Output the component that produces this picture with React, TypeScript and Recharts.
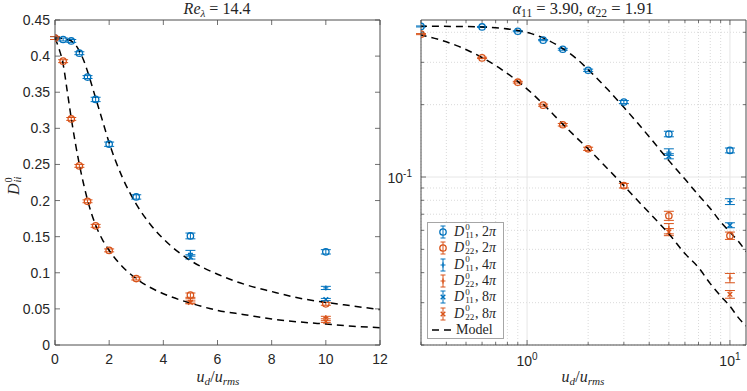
import React from 'react';
import { ComposedChart, XAxis, YAxis, Scatter, Line, ErrorBar, ReferenceLine } from 'recharts';

const BLUE = '#0072BD';
const ORANGE = '#D95319';
const INK = '#262626';
const AXIS = '#4d4d4d';
const SANS = '"Liberation Sans", Arial, Helvetica, sans-serif';
const SERIF = '"Liberation Serif", "Times New Roman", serif';

// ---------- data ----------
const uD = [0, 0.3, 0.6, 0.9, 1.2, 1.5, 2, 3, 5, 10];
const d11_2pi = [0.425, 0.423, 0.421, 0.404, 0.371, 0.34, 0.278, 0.205, 0.151, 0.129];
const d11_2pi_err = [0.002, 0.002, 0.002, 0.002, 0.002, 0.003, 0.003, 0.003, 0.004, 0.003];
const d22_2pi = [0.425, 0.393, 0.313, 0.248, 0.199, 0.165, 0.131, 0.092, 0.069, 0.057];
const d22_2pi_err = [0.002, 0.002, 0.002, 0.002, 0.002, 0.002, 0.002, 0.002, 0.003, 0.002];

const uDLarge = [5, 10];
const d11_4pi = [0.127, 0.079];
const d11_4pi_err = [0.004, 0.0022];
const d22_4pi = [0.061, 0.038];
const d22_4pi_err = [0.003, 0.0017];
const d11_8pi = [0.122, 0.063];
const d11_8pi_err = [0.003, 0.0015];
const d22_8pi = [0.059, 0.0325];
const d22_8pi_err = [0.002, 0.0012];

const uModel = [0, 0.15, 0.3, 0.45, 0.6, 0.75, 0.9, 1.05, 1.2, 1.5, 1.75, 2, 2.5, 3, 3.5, 4, 5, 6, 7, 8, 9, 10, 11, 12];
const model11 = [0.425, 0.425, 0.424, 0.423, 0.421, 0.416, 0.407, 0.395, 0.379, 0.342, 0.311, 0.28, 0.231, 0.195, 0.168, 0.147, 0.117, 0.098, 0.084, 0.074, 0.065, 0.059, 0.054, 0.049];
const model22 = [0.425, 0.41, 0.389, 0.352, 0.314, 0.28, 0.25, 0.224, 0.201, 0.166, 0.146, 0.131, 0.108, 0.092, 0.08, 0.071, 0.058, 0.048, 0.042, 0.036, 0.032, 0.029, 0.026, 0.024];

const linXTicks = [0, 2, 4, 6, 8, 10, 12];
const linYTicks = [0, 0.05, 0.1, 0.15, 0.2, 0.25, 0.3, 0.35, 0.4, 0.45];
const logXMajor = [1, 10];
const logXMinor = [0.3, 0.4, 0.5, 0.6, 0.7, 0.8, 0.9, 2, 3, 4, 5, 6, 7, 8, 9];
const logYMajor = [0.1];
const logYMinor = [0.02, 0.03, 0.04, 0.05, 0.06, 0.07, 0.08, 0.09, 0.2, 0.3, 0.4];

// ---------- helpers ----------
const rows = (xs: number[], ys: number[], es: number[]) => xs.map((x, i) => ({ x, y: ys[i], e: es[i] }));
const modelRows = uModel.map((x, i) => ({ x, m11: model11[i], m22: model22[i] }));
const modelRowsLog = modelRows.filter((r) => r.x > 0);
const positive = (r: { x: number }[]) => r.filter((p) => p.x > 0);

const circleShape = (c: string) => (p: any) =>
  <circle cx={p.cx} cy={p.cy} r={3.2} fill="none" stroke={c} strokeWidth={1.3} />;
const plusShape = (c: string) => (p: any) =>
  <path d={`M${p.cx - 2.5},${p.cy}H${p.cx + 2.5}M${p.cx},${p.cy - 2.5}V${p.cy + 2.5}`} stroke={c} strokeWidth={1.2} fill="none" />;
const crossShape = (c: string) => (p: any) =>
  <path d={`M${p.cx - 2.3},${p.cy - 2.3}L${p.cx + 2.3},${p.cy + 2.3}M${p.cx - 2.3},${p.cy + 2.3}L${p.cx + 2.3},${p.cy - 2.3}`} stroke={c} strokeWidth={1.4} fill="none" />;

type Side = 'bottom' | 'top' | 'left' | 'right';
const makeTick = (side: Side, isMajor: (v: number) => boolean, label: ((v: number, x: number, y: number) => React.ReactNode) | null) => (props: any) => {
  const { x, y, payload } = props;
  const v = payload.value;
  const len = isMajor(v) ? 5 : 3;
  let ln: any;
  if (side === 'bottom') ln = { x1: x, x2: x, y1: y, y2: y - len };
  else if (side === 'top') ln = { x1: x, x2: x, y1: y, y2: y + len };
  else if (side === 'left') ln = { x1: x, x2: x + len, y1: y, y2: y };
  else ln = { x1: x, x2: x - len, y1: y, y2: y };
  return (
    <g>
      <line {...ln} stroke={AXIS} strokeWidth={0.8} />
      {label ? label(v, x, y) : null}
    </g>
  );
};

const fmt = (v: number) => String(Number(v.toFixed(2)));
const linBottomLabel = (v: number, x: number, y: number) => (
  <text x={x} y={y + 19} textAnchor="middle" fontFamily={SANS} fontSize={14} fill={INK}>{fmt(v)}</text>
);
const linLeftLabel = (v: number, x: number, y: number) => (
  <text x={x - 5} y={y + 5} textAnchor="end" fontFamily={SANS} fontSize={14} fill={INK}>{fmt(v)}</text>
);
const logBottomLabel = (v: number, x: number, y: number) =>
  logXMajor.includes(v) ? (
    <text x={x} y={y + 21} textAnchor="middle" fontFamily={SANS} fontSize={14} fill={INK}>
      10<tspan dy={-6} fontSize={10}>{String(Math.round(Math.log10(v)))}</tspan>
    </text>
  ) : null;
const logLeftLabel = (v: number, x: number, y: number) =>
  logYMajor.includes(v) ? (
    <text x={x - 9} y={y + 6} textAnchor="end" fontFamily={SANS} fontSize={14} fill={INK}>
      10<tspan dy={-6} fontSize={10}>{String(Math.round(Math.log10(v)))}</tspan>
    </text>
  ) : null;

const allMajor = () => true;
const logXIsMajor = (v: number) => logXMajor.includes(v);
const logYIsMajor = (v: number) => logYMajor.includes(v);
const logXTicks = [...logXMinor, ...logXMajor].sort((a, b) => a - b);
const logYTicks = [...logYMinor, ...logYMajor].sort((a, b) => a - b);

const W_LEFT = 400;
const W_RIGHT = 367;
const H = 391;

const series = (log: boolean) => {
  const f = (r: any[]) => (log ? positive(r) : r);
  const common = { xAxisId: 'b', yAxisId: 'l', isAnimationActive: false } as any;
  const eb = (c: string) => <ErrorBar dataKey="e" direction="y" width={5} stroke={c} strokeWidth={1} />;
  return [
    <Scatter key="s1" {...common} data={f(rows(uD, d11_2pi, d11_2pi_err))} dataKey="y" shape={circleShape(BLUE)}>{eb(BLUE)}</Scatter>,
    <Scatter key="s2" {...common} data={f(rows(uD, d22_2pi, d22_2pi_err))} dataKey="y" shape={circleShape(ORANGE)}>{eb(ORANGE)}</Scatter>,
    <Scatter key="s3" {...common} data={rows(uDLarge, d11_4pi, d11_4pi_err)} dataKey="y" shape={plusShape(BLUE)}>{eb(BLUE)}</Scatter>,
    <Scatter key="s4" {...common} data={rows(uDLarge, d22_4pi, d22_4pi_err)} dataKey="y" shape={plusShape(ORANGE)}>{eb(ORANGE)}</Scatter>,
    <Scatter key="s5" {...common} data={rows(uDLarge, d11_8pi, d11_8pi_err)} dataKey="y" shape={crossShape(BLUE)}>{eb(BLUE)}</Scatter>,
    <Scatter key="s6" {...common} data={rows(uDLarge, d22_8pi, d22_8pi_err)} dataKey="y" shape={crossShape(ORANGE)}>{eb(ORANGE)}</Scatter>,
    <Line key="l1" {...common} type="monotone" dataKey="m11" stroke="#000" strokeWidth={1.5} strokeDasharray="7 5" dot={false} activeDot={false} />,
    <Line key="l2" {...common} type="monotone" dataKey="m22" stroke="#000" strokeWidth={1.5} strokeDasharray="7 5" dot={false} activeDot={false} />,
  ];
};

const LeftChart = () => (
  <ComposedChart width={W_LEFT} height={H} data={modelRows} margin={{ top: 19, right: 19, bottom: 0, left: 0 }}>
    <XAxis xAxisId="b" dataKey="x" type="number" domain={[0, 12]} allowDataOverflow ticks={linXTicks} interval={0}
      height={46} stroke={AXIS} tickLine={false} tickSize={0} tickMargin={0} tick={makeTick('bottom', allMajor, linBottomLabel)} />
    <XAxis xAxisId="t" orientation="top" dataKey="x" type="number" domain={[0, 12]} allowDataOverflow ticks={linXTicks} interval={0}
      height={1} stroke={AXIS} tickLine={false} tickSize={0} tickMargin={0} tick={makeTick('top', allMajor, null)} />
    <YAxis yAxisId="l" type="number" domain={[0, 0.45]} allowDataOverflow ticks={linYTicks} interval={0}
      width={55} stroke={AXIS} tickLine={false} tickSize={0} tickMargin={0} tick={makeTick('left', allMajor, linLeftLabel)} />
    <YAxis yAxisId="r" orientation="right" type="number" domain={[0, 0.45]} allowDataOverflow ticks={linYTicks} interval={0}
      width={1} stroke={AXIS} tickLine={false} tickSize={0} tickMargin={0} tick={makeTick('right', allMajor, null)} />
    {series(false)}
  </ComposedChart>
);

const RightChart = () => (
  <ComposedChart width={W_RIGHT} height={H} data={modelRowsLog} margin={{ top: 19, right: 0, bottom: 0, left: 0 }}>
    <XAxis xAxisId="b" dataKey="x" type="number" scale="log" domain={[0.3, 12]} allowDataOverflow ticks={logXTicks} interval={0}
      height={46} stroke={AXIS} tickLine={false} tickSize={0} tickMargin={0} tick={makeTick('bottom', logXIsMajor, logBottomLabel)} />
    <XAxis xAxisId="t" orientation="top" dataKey="x" type="number" scale="log" domain={[0.3, 12]} allowDataOverflow ticks={logXTicks} interval={0}
      height={1} stroke={AXIS} tickLine={false} tickSize={0} tickMargin={0} tick={makeTick('top', logXIsMajor, null)} />
    <YAxis yAxisId="l" type="number" scale="log" domain={[0.02, 0.45]} allowDataOverflow ticks={logYTicks} interval={0}
      width={41} stroke={AXIS} tickLine={false} tickSize={0} tickMargin={0} tick={makeTick('left', logYIsMajor, logLeftLabel)} />
    <YAxis yAxisId="r" orientation="right" type="number" scale="log" domain={[0.02, 0.45]} allowDataOverflow ticks={logYTicks} interval={0}
      width={1} stroke={AXIS} tickLine={false} tickSize={0} tickMargin={0} tick={makeTick('right', logYIsMajor, null)} />
    {logXMinor.map((v) => (
      <ReferenceLine key={'gx' + v} xAxisId="b" yAxisId="l" x={v} stroke="#d0d0d0" strokeWidth={0.8} strokeDasharray="1 2" />
    ))}
    {logYMinor.map((v) => (
      <ReferenceLine key={'gy' + v} xAxisId="b" yAxisId="l" y={v} stroke="#d0d0d0" strokeWidth={0.8} strokeDasharray="1 2" />
    ))}
    {logXMajor.map((v) => (
      <ReferenceLine key={'GX' + v} xAxisId="b" yAxisId="l" x={v} stroke="#e6e6e6" strokeWidth={1} />
    ))}
    {logYMajor.map((v) => (
      <ReferenceLine key={'GY' + v} xAxisId="b" yAxisId="l" y={v} stroke="#e6e6e6" strokeWidth={1} />
    ))}
    {series(true)}
  </ComposedChart>
);

// superscript stacked over subscript (LaTeX style)
const Stack = ({ sup, sub }: { sup: React.ReactNode; sub: React.ReactNode }) => (
  <span style={{ position: 'relative', display: 'inline-block', width: '1.2em', height: '1em', fontSize: '0.65em' }}>
    <span style={{ position: 'absolute', left: 1, top: '-0.36em', lineHeight: '0.8em' }}>{sup}</span>
    <span style={{ position: 'absolute', left: 1, top: '0.56em', lineHeight: '0.8em' }}>{sub}</span>
  </span>
);

const Sub = ({ children }: { children: React.ReactNode }) => (
  <span style={{ fontSize: '0.7em', verticalAlign: '-0.3em' }}>{children}</span>
);

const legendItems = [
  { idx: '11', size: '2', color: BLUE, kind: 'o' },
  { idx: '22', size: '2', color: ORANGE, kind: 'o' },
  { idx: '11', size: '4', color: BLUE, kind: '+' },
  { idx: '22', size: '4', color: ORANGE, kind: '+' },
  { idx: '11', size: '8', color: BLUE, kind: 'x' },
  { idx: '22', size: '8', color: ORANGE, kind: 'x' },
];

const LegendIcon = ({ color, kind }: { color: string; kind: string }) => {
  const cx = 8, cy = 8;
  return (
    <svg width={16} height={16} style={{ position: 'absolute', left: 7, top: 0 }}>
      <path d={`M${cx},${cy - 6}V${cy + 6}M${cx - 2.5},${cy - 6}H${cx + 2.5}M${cx - 2.5},${cy + 6}H${cx + 2.5}`} stroke={color} strokeWidth={1} fill="none" />
      {kind === 'o' && circleShape(color)({ cx, cy })}
      {kind === '+' && plusShape(color)({ cx, cy })}
      {kind === 'x' && crossShape(color)({ cx, cy })}
    </svg>
  );
};

const LegendBox = () => (
  <div style={{ position: 'absolute', left: 427, top: 222, width: 75, height: 115, background: '#fff', border: '1px solid #a6a6a6', fontFamily: SERIF, fontSize: 14, color: INK }}>
    {legendItems.map((it, i) => (
      <div key={i} style={{ position: 'absolute', left: 0, top: 1 + i * 16.3, height: 16, width: 75 }}>
        <LegendIcon color={it.color} kind={it.kind} />
        <span style={{ position: 'absolute', left: 26, top: 0, whiteSpace: 'nowrap', lineHeight: '16px' }}>
          <i>D</i><Stack sup="0" sub={it.idx} />, {it.size}<i>π</i>
        </span>
      </div>
    ))}
    <div style={{ position: 'absolute', left: 0, top: 1 + 6 * 16.3, height: 16, width: 75 }}>
      <svg width={24} height={16} style={{ position: 'absolute', left: 3, top: 0 }}>
        <line x1={1} x2={23} y1={8} y2={8} stroke="#000" strokeWidth={1.5} strokeDasharray="7 5" />
      </svg>
      <span style={{ position: 'absolute', left: 28, top: 0, lineHeight: '16px' }}>Model</span>
    </div>
  </div>
);

const textBase: React.CSSProperties = { position: 'absolute', fontFamily: SERIF, color: INK, whiteSpace: 'nowrap', lineHeight: '18px' };

export default function App() {
  return (
    <div style={{ position: 'absolute', left: 0, top: 0, width: 747, height: 391, background: '#fff', overflow: 'hidden' }}>
      <div style={{ position: 'absolute', left: 0, top: 0 }}>
        <LeftChart />
      </div>
      <div style={{ position: 'absolute', left: 380, top: 0 }}>
        <RightChart />
      </div>
      <div style={{ ...textBase, left: 217, top: 0, fontSize: 16, transform: 'translateX(-50%)' }}>
        <i>Re</i><Sub><i>λ</i></Sub> = 14.4
      </div>
      <div style={{ ...textBase, left: 583, top: 0, fontSize: 16.5, transform: 'translateX(-50%)' }}>
        <i>α</i><Sub>11</Sub> = 3.90, <i>α</i><Sub>22</Sub> = 1.91
      </div>
      <div style={{ ...textBase, left: 218, top: 368, fontSize: 16, transform: 'translateX(-50%)' }}>
        <i>u</i><Sub><i>d</i></Sub>/<i>u</i><Sub><i>rms</i></Sub>
      </div>
      <div style={{ ...textBase, left: 583, top: 368, fontSize: 16, transform: 'translateX(-50%)' }}>
        <i>u</i><Sub><i>d</i></Sub>/<i>u</i><Sub><i>rms</i></Sub>
      </div>
      <div style={{ ...textBase, left: 14, top: 183, fontSize: 16, transform: 'translate(-50%, -50%) rotate(-90deg)' }}>
        <i>D</i><Stack sup="0" sub={<i>ii</i>} />
      </div>
      <LegendBox />
    </div>
  );
}
